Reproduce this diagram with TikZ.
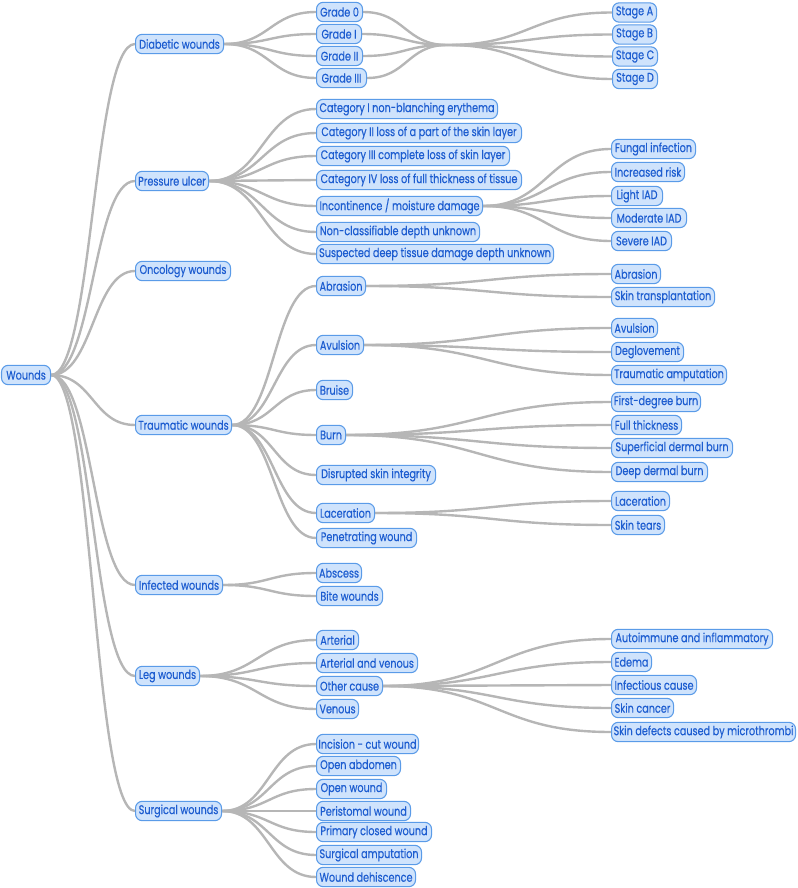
\documentclass[tikz,border=0pt]{standalone}
\usepackage{fontspec}
\setmainfont{Poppins}[FakeStretch=0.77,FakeBold=0.4]
\usetikzlibrary{calc,backgrounds}
\definecolor{boxfill}{HTML}{CFE3FC}
\definecolor{boxdraw}{HTML}{5A9BE8}
\definecolor{boxtext}{HTML}{1D5DD0}
\definecolor{edgegray}{HTML}{B6B6B6}
\tikzset{
 box/.style={draw=boxdraw, fill=boxfill, text=boxtext, rounded corners=5pt, line width=0.8pt, anchor=west, minimum height=14.5pt, inner sep=0pt, font=\fontsize{9.4pt}{10pt}\selectfont},
 link/.style={to path={let \p1=(\tikztostart), \p2=(\tikztotarget) in .. controls ({(\x1+\x2)/2},\y1) and ({(\x1+\x2)/2},\y2) .. (\tikztotarget)}},
 conn/.style={draw=edgegray, line width=1.8pt, link}
}
\newcommand{\nd}[5]{\node[box, minimum width={(#4-#2)*0.75pt}] (#1) at (#2,#3) {#5};}
\begin{document}
\begin{tikzpicture}[x=0.75pt,y=-0.75pt]
\useasboundingbox (0,0) rectangle (797,888);
\nd{W}{1}{375}{50}{Wounds}
\nd{dia}{135}{44}{223}{Diabetic wounds}
\nd{pre}{135}{181}{208}{Pressure ulcer}
\nd{onc}{135}{271}{230}{Oncology wounds}
\nd{tra}{135}{425}{231}{Traumatic wounds}
\nd{inf}{135}{585}{222}{Infected wounds}
\nd{leg}{135}{676}{199}{Leg wounds}
\nd{sur}{135}{811}{221}{Surgical wounds}
% level 2
\nd{g0}{316}{12}{362}{Grade 0}
\nd{g1}{316}{34}{361}{Grade I}
\nd{g2}{316}{56}{362}{Grade II}
\nd{g3}{316}{78}{366}{Grade III}
\nd{c1}{316}{109}{497}{Category I non-blanching erythema}
\nd{c2}{316}{133}{521}{Category II loss of a part of the skin layer}
\nd{c3}{316}{156}{509}{Category III complete loss of skin layer}
\nd{c4}{316}{180}{521}{Category IV loss of full thickness of tissue}
\nd{inc}{316}{206}{482}{Incontinence / moisture damage}
\nd{ncl}{316}{232}{479}{Non-classifiable depth unknown}
\nd{sdt}{316}{254}{553}{Suspected deep tissue damage depth unknown}
\nd{abr}{316}{286}{365}{Abrasion}
\nd{avu}{316}{345}{363}{Avulsion}
\nd{bru}{316}{390}{352}{Bruise}
\nd{bur}{316}{435}{345}{Burn}
\nd{dsi}{316}{475}{435}{Disrupted skin integrity}
\nd{lac}{316}{513}{374}{Laceration}
\nd{pen}{316}{538}{416}{Penetrating wound}
\nd{abs}{316}{573}{361}{Abscess}
\nd{bit}{316}{596}{382}{Bite wounds}
\nd{art}{316}{640}{358}{Arterial}
\nd{arv}{316}{663}{417}{Arterial and venous}
\nd{oth}{316}{686}{382}{Other cause}
\nd{ven}{316}{709}{358}{Venous}
\nd{s1}{316}{744}{418}{Incision - cut wound}
\nd{s2}{316}{766}{400}{Open abdomen}
\nd{s3}{316}{789}{386}{Open wound}
\nd{s4}{316}{811}{410}{Peristomal wound}
\nd{s5}{316}{832}{431}{Primary closed wound}
\nd{s6}{316}{855}{421}{Surgical amputation}
\nd{s7}{316}{877}{415}{Wound dehiscence}
% level 3
\nd{sA}{612}{12.5}{656}{Stage A}
\nd{sB}{612}{34.5}{656}{Stage B}
\nd{sC}{612}{56.5}{657}{Stage C}
\nd{sD}{612}{79}{657}{Stage D}
\nd{fun}{611}{149}{695}{Fungal infection}
\nd{inr}{611}{172}{684}{Increased risk}
\nd{lia}{611}{196}{662}{Light IAD}
\nd{moa}{611}{218}{686}{Moderate IAD}
\nd{sea}{611}{241}{671}{Severe IAD}
\nd{abrb}{611}{274}{660}{Abrasion}
\nd{skt}{611}{297}{714}{Skin transplantation}
\nd{avub}{611}{328}{657}{Avulsion}
\nd{deg}{611}{352}{683}{Deglovement}
\nd{tam}{611}{375}{726}{Traumatic amputation}
\nd{fdb}{611}{402}{700}{First-degree burn}
\nd{fth}{611}{425}{681}{Full thickness}
\nd{sdb}{611}{448}{732}{Superficial dermal burn}
\nd{ddb}{611}{472}{707}{Deep dermal burn}
\nd{lacb}{611}{501}{669}{Laceration}
\nd{ste}{611}{525}{664}{Skin tears}
\nd{aut}{611}{639}{772}{Autoimmune and inflammatory}
\nd{ede}{611}{662}{651}{Edema}
\nd{ifc}{611}{685}{696}{Infectious cause}
\nd{skc}{611}{708}{673}{Skin cancer}
\nd{sdm}{611}{732}{795}{Skin defects caused by microthrombi}
\coordinate (J) at (447,45);
\begin{scope}[on background layer]
\foreach \a/\b in {W/dia,W/pre,W/onc,W/tra,W/inf,W/leg,W/sur,
  dia/g0,dia/g1,dia/g2,dia/g3,
  pre/c1,pre/c2,pre/c3,pre/c4,pre/inc,pre/ncl,pre/sdt,
  inc/fun,inc/inr,inc/lia,inc/moa,inc/sea,
  tra/abr,tra/avu,tra/bru,tra/bur,tra/dsi,tra/lac,tra/pen,
  abr/abrb,abr/skt,avu/avub,avu/deg,avu/tam,
  bur/fdb,bur/fth,bur/sdb,bur/ddb,lac/lacb,lac/ste,
  inf/abs,inf/bit,leg/art,leg/arv,leg/oth,leg/ven,
  oth/aut,oth/ede,oth/ifc,oth/skc,oth/sdm,
  sur/s1,sur/s2,sur/s3,sur/s4,sur/s5,sur/s6,sur/s7}
  \draw[conn] (\a.east) to (\b.west);
\foreach \a in {g0,g1,g2,g3} \draw[conn] (\a.east) to (J);
\foreach \b in {sA,sB,sC,sD} \draw[conn] (J) to (\b.west);
\end{scope}
\end{tikzpicture}
\end{document}
